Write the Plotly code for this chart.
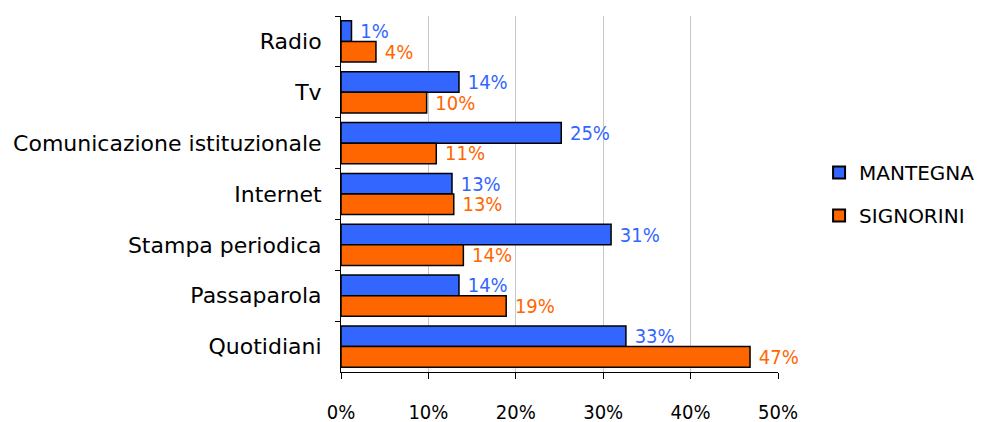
import plotly.graph_objects as go

categories = ["Radio", "Tv", "Comunicazione istituzionale", "Internet",
              "Stampa periodica", "Passaparola", "Quotidiani"]
mantegna = [1.2, 13.5, 25.2, 12.7, 30.9, 13.5, 32.6]
signorini = [4.0, 9.8, 10.9, 12.9, 14.0, 18.9, 46.8]
mantegna_labels = ["1%", "14%", "25%", "13%", "31%", "14%", "33%"]
signorini_labels = ["4%", "10%", "11%", "13%", "14%", "19%", "47%"]
tick_vals = [0, 10, 20, 30, 40, 50]
tick_text = ["0%", "10%", "20%", "30%", "40%", "50%"]

BLUE = "#3366FF"
ORANGE = "#FF6600"
FONT = "DejaVu Sans"
FONT_C = "DejaVu Sans Condensed, DejaVu Sans"

fig = go.Figure()
fig.add_trace(go.Bar(
    name="MANTEGNA", y=categories, x=mantegna, orientation="h",
    legendgroup="a",
    marker=dict(color=BLUE, line=dict(color="black", width=1.5)),
    text=[" " + t for t in mantegna_labels], textposition="outside",
    constraintext="none",
    textfont=dict(color=BLUE, size=20, family=FONT_C), cliponaxis=False,
))
fig.add_trace(go.Bar(
    name="SIGNORINI", y=categories, x=signorini, orientation="h",
    legendgroup="b",
    marker=dict(color=ORANGE, line=dict(color="black", width=1.5)),
    text=[" " + t for t in signorini_labels], textposition="outside",
    constraintext="none",
    textfont=dict(color=ORANGE, size=20, family=FONT_C), cliponaxis=False,
))

fig.update_layout(
    width=974, height=414,
    margin=dict(l=333, r=204, t=8, b=50, autoexpand=False),
    paper_bgcolor="white", plot_bgcolor="white",
    barmode="group", bargap=0.19, bargroupgap=0,
    font=dict(family=FONT, size=20, color="black"),
    legend=dict(x=1.094, y=0.5, xanchor="left", yanchor="middle",
                traceorder="grouped", font=dict(size=20, family=FONT),
                tracegroupgap=14, itemsizing="constant"),
)
fig.update_xaxes(
    range=[0, 50], tickvals=tick_vals, ticktext=tick_text,
    tickfont=dict(size=20, family=FONT_C),
    showgrid=True, gridcolor="#C8C8C8", gridwidth=1,
    showline=True, linecolor="black", linewidth=1,
    ticks="outside", ticklen=6, tickcolor="black",
    ticklabelstandoff=16, zeroline=False,
)
fig.update_yaxes(
    autorange="reversed", showline=True, linecolor="black", linewidth=1,
    tickfont=dict(size=22, family=FONT),
    ticks="outside", ticklen=5, tickcolor="black", tickson="boundaries",
    ticklabelstandoff=14, showgrid=False,
)

fig.write_html("out.html")
